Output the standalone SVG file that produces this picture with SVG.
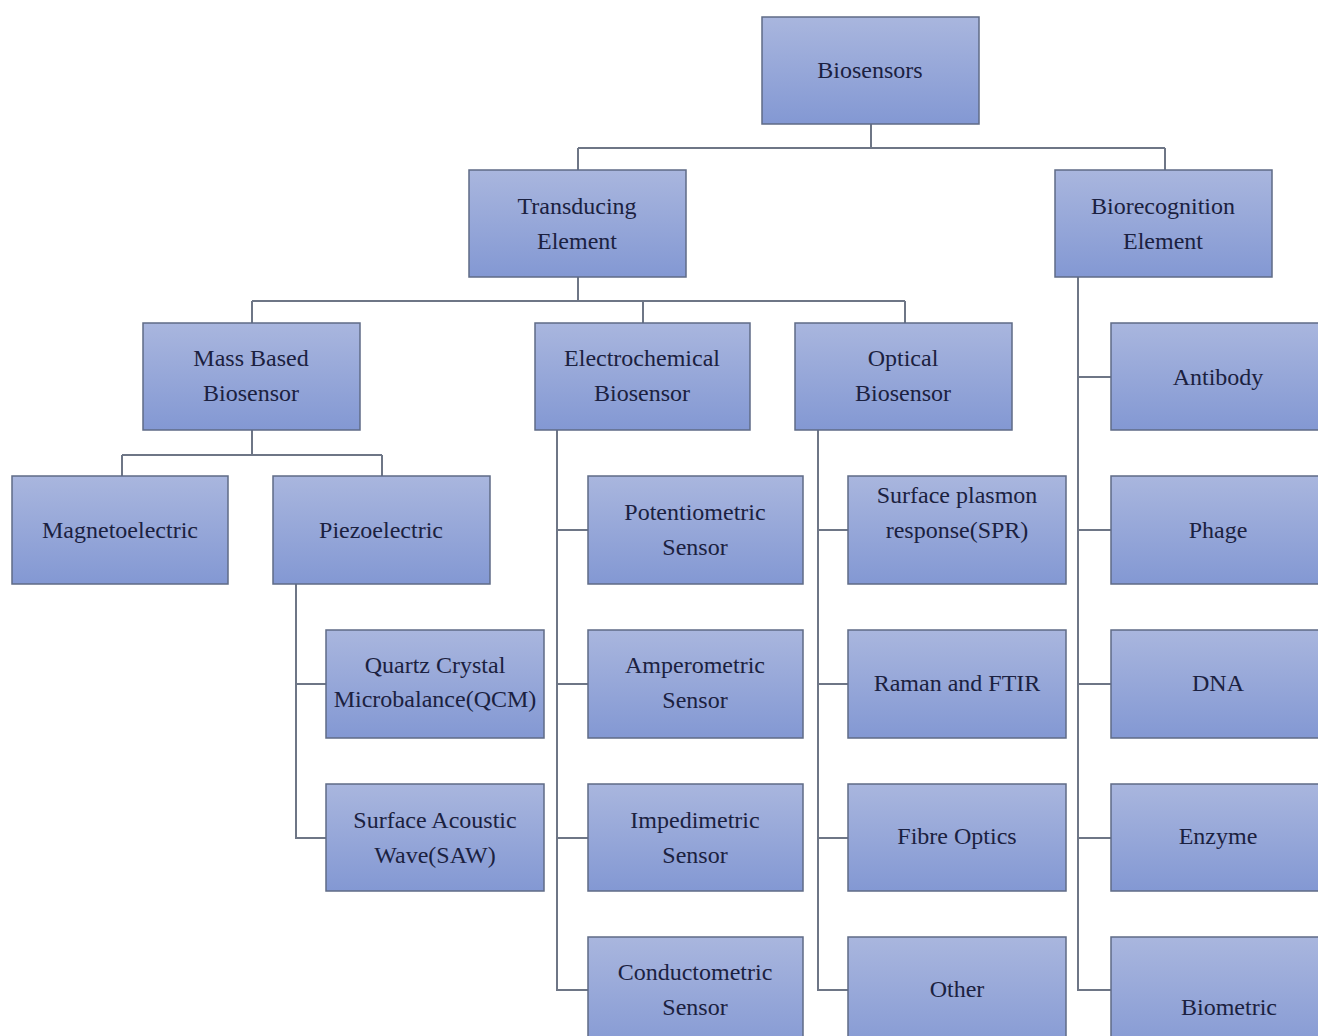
<svg xmlns="http://www.w3.org/2000/svg" width="1318" height="1036" viewBox="0 0 1318 1036">
<defs>
<linearGradient id="g" x1="0" y1="0" x2="0" y2="1">
<stop offset="0" stop-color="#a9b6de"/>
<stop offset="1" stop-color="#8398d3"/>
</linearGradient>
</defs>
<style>
rect.b{fill:url(#g);stroke:#5f6b86;stroke-width:1.5}
.t text{font-size:24px;fill:#1b2140;text-anchor:middle}
.c path{fill:none;stroke:#6e7686;stroke-width:2}
</style>
<rect width="1318" height="1036" fill="#ffffff"/>
<g class="c" id="connectors">
<path d="M871 124V148M578 148H1165M578 148V170M1165 148V170"/>
<path d="M578 277V301M252 301H905M252 301V323M643 301V323M905 301V323"/>
<path d="M252 430V455M122 455H382M122 455V476M382 455V476"/>
<path d="M296 584V838H326M296 684H326"/>
<path d="M557 430V990H588M557 530H588M557 684H588M557 838H588"/>
<path d="M818 430V990H848M818 530H848M818 684H848M818 838H848"/>
<path d="M1078 277V990H1111M1078 377H1111M1078 530H1111M1078 684H1111M1078 838H1111"/>
</g>
<g class="t" font-family="Liberation Serif, DejaVu Serif, serif">
<g id="biosensors"><rect class="b" x="762" y="17" width="217" height="107"/><text x="870" y="78">Biosensors</text></g>
<g id="transducing"><rect class="b" x="469" y="170" width="217" height="107"/><text x="577" y="214">Transducing</text><text x="577" y="249">Element</text></g>
<g id="biorecognition"><rect class="b" x="1055" y="170" width="217" height="107"/><text x="1163" y="214">Biorecognition</text><text x="1163" y="249">Element</text></g>
<g id="mass"><rect class="b" x="143" y="323" width="217" height="107"/><text x="251" y="366">Mass Based</text><text x="251" y="401">Biosensor</text></g>
<g id="electrochemical"><rect class="b" x="535" y="323" width="215" height="107"/><text x="642" y="366">Electrochemical</text><text x="642" y="401">Biosensor</text></g>
<g id="optical"><rect class="b" x="795" y="323" width="217" height="107"/><text x="903" y="366">Optical</text><text x="903" y="401">Biosensor</text></g>
<g id="antibody"><rect class="b" x="1111" y="323" width="217" height="107"/><text x="1218" y="385">Antibody</text></g>
<g id="magnetoelectric"><rect class="b" x="12" y="476" width="216" height="108"/><text x="120" y="538">Magnetoelectric</text></g>
<g id="piezoelectric"><rect class="b" x="273" y="476" width="217" height="108"/><text x="381" y="538">Piezoelectric</text></g>
<g id="potentiometric"><rect class="b" x="588" y="476" width="215" height="108"/><text x="695" y="520">Potentiometric</text><text x="695" y="555">Sensor</text></g>
<g id="spr"><rect class="b" x="848" y="476" width="218" height="108"/><text x="957" y="503">Surface plasmon</text><text x="957" y="538">response(SPR)</text></g>
<g id="phage"><rect class="b" x="1111" y="476" width="217" height="108"/><text x="1218" y="538">Phage</text></g>
<g id="qcm"><rect class="b" x="326" y="630" width="218" height="108"/><text x="435" y="673">Quartz Crystal</text><text x="435" y="707">Microbalance(QCM)</text></g>
<g id="amperometric"><rect class="b" x="588" y="630" width="215" height="108"/><text x="695" y="673">Amperometric</text><text x="695" y="708">Sensor</text></g>
<g id="raman"><rect class="b" x="848" y="630" width="218" height="108"/><text x="957" y="691">Raman and FTIR</text></g>
<g id="dna"><rect class="b" x="1111" y="630" width="217" height="108"/><text x="1218" y="691">DNA</text></g>
<g id="saw"><rect class="b" x="326" y="784" width="218" height="107"/><text x="435" y="828">Surface Acoustic</text><text x="435" y="863">Wave(SAW)</text></g>
<g id="impedimetric"><rect class="b" x="588" y="784" width="215" height="107"/><text x="695" y="828">Impedimetric</text><text x="695" y="863">Sensor</text></g>
<g id="fibre"><rect class="b" x="848" y="784" width="218" height="107"/><text x="957" y="844">Fibre Optics</text></g>
<g id="enzyme"><rect class="b" x="1111" y="784" width="217" height="107"/><text x="1218" y="844">Enzyme</text></g>
<g id="conductometric"><rect class="b" x="588" y="937" width="215" height="120"/><text x="695" y="980">Conductometric</text><text x="695" y="1015">Sensor</text></g>
<g id="other"><rect class="b" x="848" y="937" width="218" height="120"/><text x="957" y="997">Other</text></g>
<g id="biometric"><rect class="b" x="1111" y="937" width="217" height="120"/><text x="1229" y="1015">Biometric</text></g>
</g>
</svg>
